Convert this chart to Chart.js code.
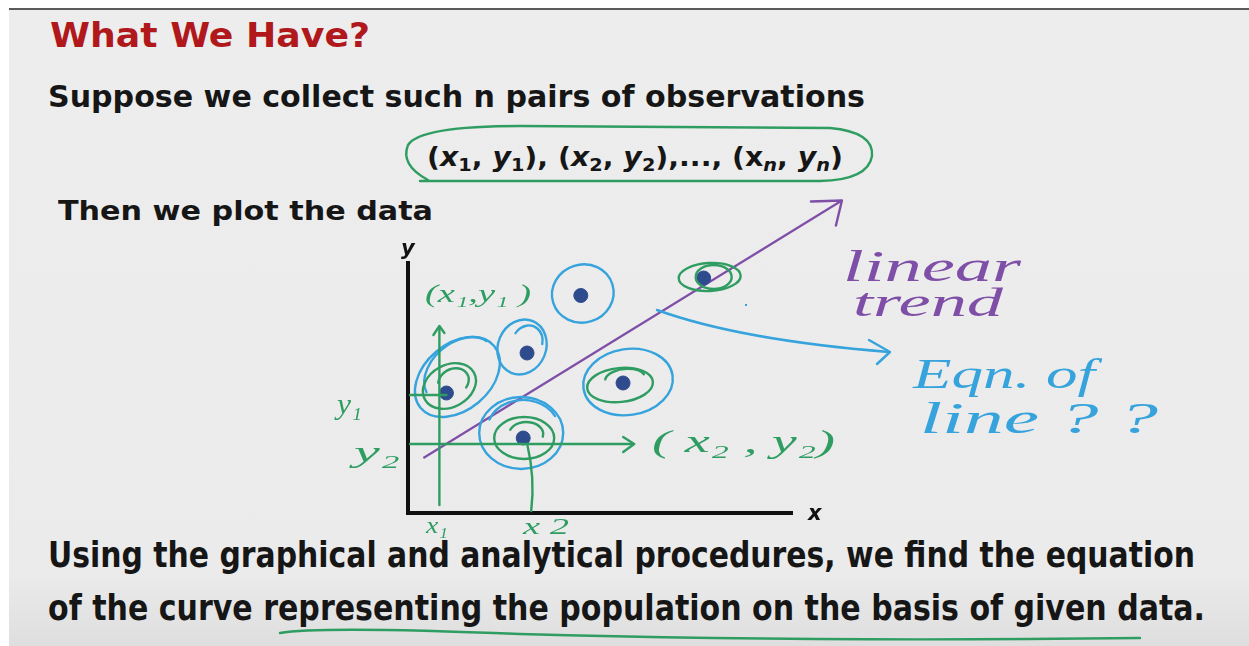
<!DOCTYPE html>
<html>
<head>
<meta charset="utf-8">
<title>What We Have?</title>
<script src="https://cdn.jsdelivr.net/npm/chart.js@4.4.0/dist/chart.umd.min.js"></script>
<style>
  html, body { margin: 0; padding: 0; background: #fff; overflow: hidden; }
  #slide {
    position: absolute; left: 9px; top: 8px; width: 1240px; height: 638px;
    border-top: 2px solid #5a5a5a;
    background: linear-gradient(#ededed, #ebebeb 88%, #dedede);
  }
  .t {
    position: absolute; white-space: nowrap; line-height: 1;
    font-family: "DejaVu Sans", sans-serif; font-weight: bold; color: #161616;
    transform-origin: left center;
  }
  .title { left: 50px; top: 18px; font-size: 34px; color: #b0181c; }
  .narrow { font-family: "Liberation Sans Narrow", "DejaVu Sans Condensed", sans-serif; font-stretch: condensed; }
  .t sub { font-size: 0.68em; vertical-align: -0.28em; line-height: 0; }
  #plot { position: absolute; left: 0; top: 0; z-index: 2; }
</style>
</head>
<body>
<div id="slide"></div>
<div class="t title" data-w="320">What We Have?</div>
<div class="t" style="left:48px;top:82px;font-size:30px" data-w="817">Suppose we collect such n pairs of observations</div>
<div class="t" style="left:427px;top:143px;font-size:27px" data-w="416">(<i>x</i><sub>1</sub>, <i>y</i><sub>1</sub>), (<i>x</i><sub>2</sub>, <i>y</i><sub>2</sub>),..., (x<sub><i>n</i></sub>, <i>y<sub>n</sub></i>)</div>
<div class="t" style="left:58px;top:197px;font-size:27px" data-w="375">Then we plot the data</div>
<div class="t narrow" style="left:48px;top:537px;font-size:36px" data-w="1147">Using the graphical and analytical procedures, we find the equation</div>
<div class="t narrow" style="left:48px;top:590px;font-size:36px" data-w="1157">of the curve representing the population on the basis of given data.</div>
<canvas id="plot" width="1249" height="646"></canvas>
<script>
// observations (x_i, y_i)
var pointX = [1.0, 3.1, 4.5, 5.6, 3.0, 7.7];
var pointY = [4.8, 6.4, 8.7, 5.2, 3.0, 9.4];

// ends of the fitted trend line
var trendX = [0.4, 11.3];
var trendY = [2.2, 12.5];

var GREEN = '#2f9d62';
var BLUE = '#36a3dc';
var PURPLE = '#7f4fa8';
var DOT = '#2e4b8e';

// squeeze each slide line to its width
document.querySelectorAll('[data-w]').forEach(function (el) {
    var w = el.getBoundingClientRect().width;
    el.style.transform = 'scaleX(' + (el.dataset.w / w) + ')';
});

// pen loops drawn round each observation: offset from the dot, radii, tilt, arc
var rings = [
    [{dx: 11, dy: -16, rx: 48, ry: 33, rot: -0.7, c: BLUE},
     {dx: 13, dy: -23, rx: 40, ry: 27, rot: -0.7, c: BLUE, a0: 3.3, a1: 6.1},
     {dx: 3, dy: -7, rx: 28, ry: 21, rot: -0.5, c: GREEN},
     {dx: 7, dy: -11, rx: 16, ry: 13, rot: -0.5, c: GREEN, a0: -2.6, a1: 1.0}],
    [{dx: -5, dy: -6, rx: 24, ry: 28, rot: 0.4, c: BLUE},
     {dx: 0, dy: -10, rx: 15, ry: 18, rot: 0.4, c: BLUE, a0: 3.4, a1: 6.0}],
    [{dx: 2, dy: -2, rx: 31, ry: 29, rot: -0.3, c: BLUE}],
    [{dx: 5, dy: -1, rx: 45, ry: 33, rot: -0.15, c: BLUE},
     {dx: -3, dy: 2, rx: 33, ry: 17, rot: -0.1, c: GREEN},
     {dx: 2, dy: -4, rx: 20, ry: 10, rot: -0.1, c: GREEN, a0: 3.3, a1: 6.0}],
    [{dx: -2, dy: -5, rx: 42, ry: 36, rot: 0, c: BLUE},
     {dx: 0, dy: -8, rx: 36, ry: 30, rot: 0, c: BLUE, a0: 3.5, a1: 5.8},
     {dx: 1, dy: 0, rx: 30, ry: 21, rot: 0, c: GREEN},
     {dx: 3, dy: -4, rx: 17, ry: 12, rot: 0, c: GREEN, a0: 3.5, a1: 6.5}],
    [{dx: 6, dy: -1, rx: 31, ry: 14, rot: -0.05, c: GREEN},
     {dx: 10, dy: -1, rx: 18, ry: 12, rot: 0, c: GREEN}]
];

function pen(ctx, color, width) {
    ctx.strokeStyle = color;
    ctx.fillStyle = color;
    ctx.lineWidth = width || 2.4;
    ctx.lineCap = 'round';
    ctx.lineJoin = 'round';
}

function line(ctx, pts) {
    ctx.beginPath();
    ctx.moveTo(pts[0][0], pts[0][1]);
    for (var i = 1; i < pts.length; i++) ctx.lineTo(pts[i][0], pts[i][1]);
    ctx.stroke();
}

// handwritten words, stretched to the width the pen used
function hand(ctx, text, x, base, w, size, color) {
    ctx.save();
    ctx.font = 'italic ' + size + 'px "Liberation Serif", serif';
    var m = ctx.measureText(text).width;
    ctx.translate(x, base);
    ctx.scale(w / m, 1);
    ctx.fillStyle = color;
    ctx.fillText(text, 0, 0);
    ctx.restore();
}

var inkPlugin = {
    id: 'ink',
    afterDatasetsDraw: function (chart) {
        var ctx = chart.ctx;
        var xs = chart.scales.x, ys = chart.scales.y;
        var pts = pointX.map(function (v, i) {
            return {x: xs.getPixelForValue(v), y: ys.getPixelForValue(pointY[i])};
        });
        ctx.save();

        // loops round the dots
        rings.forEach(function (set, i) {
            set.forEach(function (r) {
                pen(ctx, r.c, 2.4);
                ctx.beginPath();
                ctx.ellipse(pts[i].x + r.dx, pts[i].y + r.dy, r.rx, r.ry, r.rot,
                    r.a0 === undefined ? 0 : r.a0, r.a1 === undefined ? Math.PI * 2 : r.a1);
                ctx.stroke();
            });
        });

        // guides to (x1, y1)
        var p1 = pts[0];
        pen(ctx, GREEN, 2.4);
        line(ctx, [[p1.x - 7, ys.bottom - 8], [p1.x - 7, p1.y - 66]]);
        line(ctx, [[p1.x - 13, p1.y - 58], [p1.x - 7, p1.y - 67], [p1.x - 2, p1.y - 60]]);
        line(ctx, [[xs.left + 2, p1.y + 2], [p1.x, p1.y + 2]]);

        // guides to (x2, y2)
        var p2 = pts[4];
        line(ctx, [[xs.left + 2, p2.y + 6], [p2.x + 110, p2.y + 6]]);
        line(ctx, [[p2.x + 100, p2.y - 1], [p2.x + 111, p2.y + 6], [p2.x + 100, p2.y + 14]]);
        ctx.beginPath();
        ctx.moveTo(p2.x + 4, p2.y + 6);
        ctx.quadraticCurveTo(p2.x + 12, p2.y + 40, p2.x + 8, ys.bottom - 2);
        ctx.stroke();

        // arrow head on the trend line
        var tip = {x: xs.getPixelForValue(trendX[1]), y: ys.getPixelForValue(trendY[1])};
        pen(ctx, PURPLE, 2.4);
        line(ctx, [[tip.x - 31, tip.y + 1], [tip.x, tip.y], [tip.x - 6, tip.y + 25]]);

        // arrow from the line to the question
        pen(ctx, BLUE, 2.4);
        ctx.beginPath();
        ctx.moveTo(657, 310);
        ctx.quadraticCurveTo(740, 340, 889, 352);
        ctx.stroke();
        line(ctx, [[869, 340], [890, 352], [877, 364]]);
        ctx.fillRect(745, 304, 2, 2);

        // axis names
        ctx.fillStyle = '#111';
        ctx.font = 'italic bold 21px "DejaVu Sans", sans-serif';
        ctx.fillText('y', xs.left - 7, ys.top - 8);
        ctx.fillText('x', xs.right + 16, ys.bottom + 7);

        // pen notes
        hand(ctx, '(x\u2081,y\u2081 )', 425, 302, 106, 26, GREEN);
        hand(ctx, 'y\u2081', 337, 414, 25, 30, GREEN);
        hand(ctx, 'y\u2082', 354, 462, 46, 30, GREEN);
        hand(ctx, 'x\u2081', 426, 533, 22, 24, GREEN);
        hand(ctx, 'x 2', 523, 534, 46, 24, GREEN);
        hand(ctx, '( x\u2082 , y\u2082)', 652, 452, 183, 32, GREEN);
        hand(ctx, 'linear', 843, 281, 178, 44, PURPLE);
        hand(ctx, 'trend', 853, 316, 150, 40, PURPLE);
        hand(ctx, 'Eqn. of', 913, 388, 182, 42, BLUE);
        hand(ctx, 'line ? ?', 920, 433, 238, 44, BLUE);

        // ring round the list of pairs, line under the last sentence
        pen(ctx, GREEN, 2.4);
        ctx.beginPath();
        ctx.moveTo(428, 180);
        ctx.quadraticCurveTo(400, 165, 408, 145);
        ctx.quadraticCurveTo(420, 126, 520, 126);
        ctx.lineTo(830, 128);
        ctx.quadraticCurveTo(874, 132, 872, 156);
        ctx.quadraticCurveTo(868, 180, 820, 181);
        ctx.lineTo(420, 181);
        ctx.stroke();
        ctx.beginPath();
        ctx.moveTo(280, 633);
        ctx.quadraticCurveTo(320, 626, 520, 634);
        ctx.quadraticCurveTo(800, 642, 1140, 638);
        ctx.stroke();

        ctx.restore();
    }
};

var ctx = document.getElementById('plot').getContext('2d');

var plotChart = new Chart(ctx, {
    type: 'scatter',
    data: {
        datasets: [{
            label: 'observations',
            data: pointX.map(function (v, i) { return {x: v, y: pointY[i]}; }),
            backgroundColor: DOT,
            borderColor: DOT,
            pointRadius: 7,
            order: 1
        }, {
            type: 'line',
            label: 'linear trend',
            data: trendX.map(function (v, i) { return {x: v, y: trendY[i]}; }),
            borderColor: PURPLE,
            borderWidth: 2.2,
            pointRadius: 0,
            clip: false,
            order: 2
        }]
    },
    options: {
        responsive: false,
        animation: false,
        devicePixelRatio: 1,
        layout: {
            padding: {left: 408, right: 457, top: 263, bottom: 133}
        },
        plugins: {
            legend: {display: false},
            tooltip: {enabled: false}
        },
        scales: {
            x: {
                type: 'linear', min: 0, max: 10,
                grid: {display: false, drawTicks: false},
                ticks: {display: false},
                border: {display: true, color: '#111', width: 4}
            },
            y: {
                min: 0, max: 10,
                grid: {display: false, drawTicks: false},
                ticks: {display: false},
                border: {display: true, color: '#111', width: 4}
            }
        }
    },
    plugins: [inkPlugin]
});
</script>
</body>
</html>
